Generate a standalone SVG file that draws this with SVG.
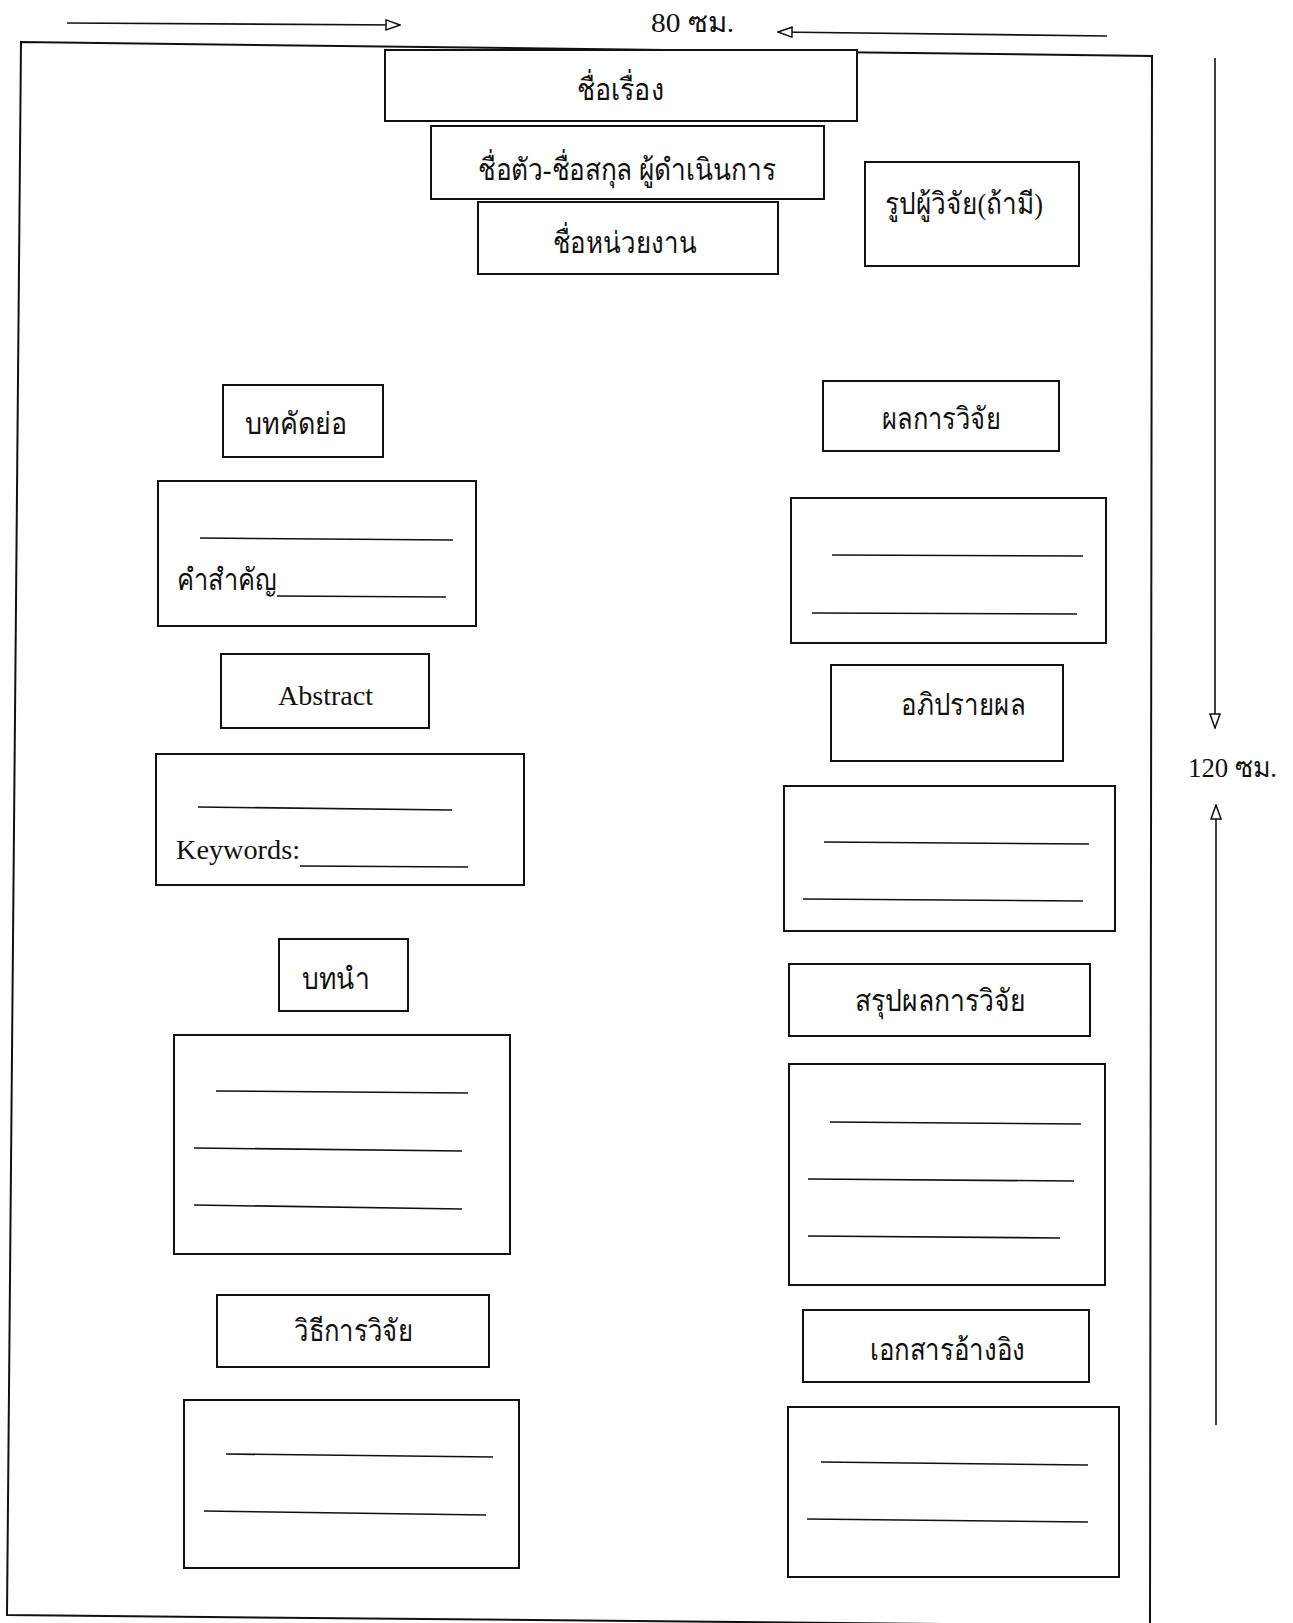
<svg xmlns="http://www.w3.org/2000/svg" width="1293" height="1623" viewBox="0 0 1293 1623">
<defs>
<style>
.bx{fill:#fff;stroke:#111;stroke-width:2}
.ln{stroke:#111;stroke-width:1.6;fill:none}
.frame{fill:none;stroke:#111;stroke-width:2}
.th{font-family:"Liberation Serif","DejaVu Sans",sans-serif;font-size:30px;fill:#111}
.lat{font-family:"Liberation Serif",serif;font-size:28px;fill:#111}
.dim{stroke:#111;stroke-width:1.6;fill:none}
</style>
<marker id="ah" viewBox="0 0 16 12" refX="15" refY="6" markerWidth="16" markerHeight="12" markerUnits="userSpaceOnUse" orient="auto">
<path d="M1,1 L15,6 L1,11 Z" fill="#fff" stroke="#111" stroke-width="1.5"/>
</marker>
</defs>
<rect width="1293" height="1623" fill="#fff"/>
<g id="page-frame">
<polygon class="frame" points="21,42 1152,56 1150,1626 7,1615"/>
</g>
<g id="connectors">
<line class="dim" x1="67" y1="23" x2="400" y2="25" marker-end="url(#ah)"/>
<line class="dim" x1="1107" y1="36" x2="778" y2="32" marker-end="url(#ah)"/>
<line class="dim" x1="1215" y1="58" x2="1215" y2="728" marker-end="url(#ah)"/>
<line class="dim" x1="1216" y1="1425" x2="1216" y2="805" marker-end="url(#ah)"/>
</g>
<g id="dim-width"><text class="lat" x="651" y="32" textLength="83" lengthAdjust="spacingAndGlyphs">80 ซม.</text></g>
<g id="dim-height"><text class="lat" x="1188" y="777" textLength="89" lengthAdjust="spacingAndGlyphs">120 ซม.</text></g>

<g id="title"><rect class="bx" x="385" y="50" width="472" height="71"/><text class="th" x="577" y="100" textLength="87" lengthAdjust="spacingAndGlyphs">ชื่อเรื่อง</text></g>
<g id="author"><rect class="bx" x="431" y="126" width="393" height="73"/><text class="th" x="478" y="180" textLength="298" lengthAdjust="spacingAndGlyphs">ชื่อตัว-ชื่อสกุล ผู้ดำเนินการ</text></g>
<g id="affiliation"><rect class="bx" x="478" y="202" width="300" height="72"/><text class="th" x="553" y="253" textLength="144" lengthAdjust="spacingAndGlyphs">ชื่อหน่วยงาน</text></g>
<g id="photo"><rect class="bx" x="865" y="162" width="214" height="104"/><text class="th" x="885" y="214" textLength="158" lengthAdjust="spacingAndGlyphs">รูปผู้วิจัย(ถ้ามี)</text></g>

<g id="abstract-th-head"><rect class="bx" x="223" y="385" width="160" height="72"/><text class="th" x="245" y="434" textLength="102" lengthAdjust="spacingAndGlyphs">บทคัดย่อ</text></g>
<g id="abstract-th-body"><rect class="bx" x="158" y="481" width="318" height="145"/>
<line class="ln" x1="200" y1="538" x2="453" y2="540"/>
<text class="th" x="177" y="590" textLength="100" lengthAdjust="spacingAndGlyphs">คำสำคัญ</text>
<line class="ln" x1="277" y1="596" x2="446" y2="597"/></g>
<g id="abstract-en-head"><rect class="bx" x="221" y="654" width="208" height="74"/><text class="lat" x="278" y="705" textLength="95" lengthAdjust="spacingAndGlyphs">Abstract</text></g>
<g id="abstract-en-body"><rect class="bx" x="156" y="754" width="368" height="131"/>
<line class="ln" x1="198" y1="807" x2="452" y2="810"/>
<text class="lat" x="176" y="859" textLength="124" lengthAdjust="spacingAndGlyphs">Keywords:</text>
<line class="ln" x1="300" y1="866" x2="468" y2="867"/></g>
<g id="intro-head"><rect class="bx" x="279" y="939" width="129" height="72"/><text class="th" x="302" y="989" textLength="68" lengthAdjust="spacingAndGlyphs">บทนำ</text></g>
<g id="intro-body"><rect class="bx" x="174" y="1035" width="336" height="219"/>
<line class="ln" x1="216" y1="1091" x2="468" y2="1093"/>
<line class="ln" x1="194" y1="1148" x2="462" y2="1151"/>
<line class="ln" x1="194" y1="1205" x2="462" y2="1209"/></g>
<g id="method-head"><rect class="bx" x="217" y="1295" width="272" height="72"/><text class="th" x="294" y="1341" textLength="119" lengthAdjust="spacingAndGlyphs">วิธีการวิจัย</text></g>
<g id="method-body"><rect class="bx" x="184" y="1400" width="335" height="168"/>
<line class="ln" x1="226" y1="1454" x2="493" y2="1457"/>
<line class="ln" x1="204" y1="1511" x2="486" y2="1515"/></g>

<g id="results-head"><rect class="bx" x="823" y="381" width="236" height="70"/><text class="th" x="882" y="429" textLength="119" lengthAdjust="spacingAndGlyphs">ผลการวิจัย</text></g>
<g id="results-body"><rect class="bx" x="791" y="498" width="315" height="145"/>
<line class="ln" x1="832" y1="555" x2="1083" y2="556"/>
<line class="ln" x1="812" y1="613" x2="1077" y2="614"/></g>
<g id="discussion-head"><rect class="bx" x="831" y="665" width="232" height="96"/><text class="th" x="901" y="715" textLength="124" lengthAdjust="spacingAndGlyphs">อภิปรายผล</text></g>
<g id="discussion-body"><rect class="bx" x="784" y="786" width="331" height="145"/>
<line class="ln" x1="824" y1="842" x2="1089" y2="844"/>
<line class="ln" x1="803" y1="899" x2="1083" y2="901"/></g>
<g id="conclusion-head"><rect class="bx" x="789" y="964" width="301" height="72"/><text class="th" x="855" y="1011" textLength="171" lengthAdjust="spacingAndGlyphs">สรุปผลการวิจัย</text></g>
<g id="conclusion-body"><rect class="bx" x="789" y="1064" width="316" height="221"/>
<line class="ln" x1="830" y1="1122" x2="1081" y2="1124"/>
<line class="ln" x1="808" y1="1179" x2="1074" y2="1181"/>
<line class="ln" x1="808" y1="1236" x2="1060" y2="1238"/></g>
<g id="references-head"><rect class="bx" x="803" y="1310" width="286" height="72"/><text class="th" x="870" y="1360" textLength="155" lengthAdjust="spacingAndGlyphs">เอกสารอ้างอิง</text></g>
<g id="references-body"><rect class="bx" x="788" y="1407" width="331" height="170"/>
<line class="ln" x1="821" y1="1462" x2="1088" y2="1465"/>
<line class="ln" x1="807" y1="1519" x2="1088" y2="1522"/></g>
</svg>
